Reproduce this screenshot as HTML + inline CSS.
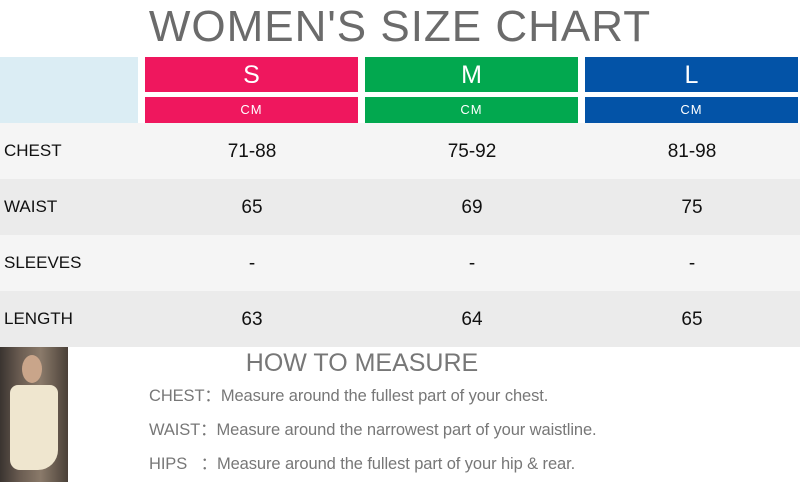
<!DOCTYPE html>
<html><head><style>
body{margin:0;width:800px;height:482px;background:#fff;position:relative;overflow:hidden;font-family:"Liberation Sans",sans-serif}
div{position:absolute;box-sizing:border-box}
.t{left:0;width:800px;top:0;height:52px;text-align:center;font-size:44px;line-height:54px;color:#6b6b6b;letter-spacing:1px}
.h{color:#fff;text-align:center}
.big{top:57px;height:35px;font-size:25px;line-height:36px}
.cm{top:97px;height:26px;font-size:13px;line-height:26px;letter-spacing:1px}
.row{left:0;width:800px;height:56px;font-size:19px;line-height:58px;color:#111}
.row span{position:absolute;text-align:center;width:220px}
.row .l{left:4px;text-align:left;font-size:17px;line-height:56px}
.m{font-size:16.5px;color:#777;left:149px;letter-spacing:-0.1px}
</style></head><body>
<div class="t">WOMEN'S SIZE CHART</div>
<div style="left:0;top:57px;width:138px;height:66px;background:#dbedf4"></div>
<div class="h big" style="left:145px;width:213px;background:#ef175e">S</div>
<div class="h cm" style="left:145px;width:213px;background:#ef175e">CM</div>
<div class="h big" style="left:365px;width:213px;background:#02a84f">M</div>
<div class="h cm" style="left:365px;width:213px;background:#02a84f">CM</div>
<div class="h big" style="left:585px;width:213px;background:#0353a7">L</div>
<div class="h cm" style="left:585px;width:213px;background:#0353a7">CM</div>
<div class="row" style="top:123px;background:#f5f5f5"><span class="l">CHEST</span><span style="left:142px">71-88</span><span style="left:362px">75-92</span><span style="left:582px">81-98</span></div>
<div class="row" style="top:179px;background:#ebebeb"><span class="l">WAIST</span><span style="left:142px">65</span><span style="left:362px">69</span><span style="left:582px">75</span></div>
<div class="row" style="top:235px;background:#f5f5f5"><span class="l">SLEEVES</span><span style="left:142px">-</span><span style="left:362px">-</span><span style="left:582px">-</span></div>
<div class="row" style="top:291px;background:#ebebeb"><span class="l">LENGTH</span><span style="left:142px">63</span><span style="left:362px">64</span><span style="left:582px">65</span></div>
<div style="left:0;top:347px;width:68px;height:135px;background:linear-gradient(90deg,#3a3430,#6b5d52 30%,#8a7a6a 60%,#4a4038);"></div>
<div style="left:10px;top:385px;width:48px;height:85px;background:#efe6cf;border-radius:8px 8px 20px 10px"></div>
<div style="left:22px;top:355px;width:20px;height:28px;background:#c9a58a;border-radius:50%"></div>
<div style="left:120px;width:484px;top:346px;height:34px;text-align:center;font-size:25px;line-height:34px;color:#777">HOW TO MEASURE</div>
<div class="m" style="top:382px">CHEST：Measure around the fullest part of your chest.</div>
<div class="m" style="top:416px">WAIST：Measure around the narrowest part of your waistline.</div>
<div class="m" style="top:450px">HIPS &nbsp;&nbsp;：Measure around the fullest part of your hip &amp; rear.</div>
</body></html>
